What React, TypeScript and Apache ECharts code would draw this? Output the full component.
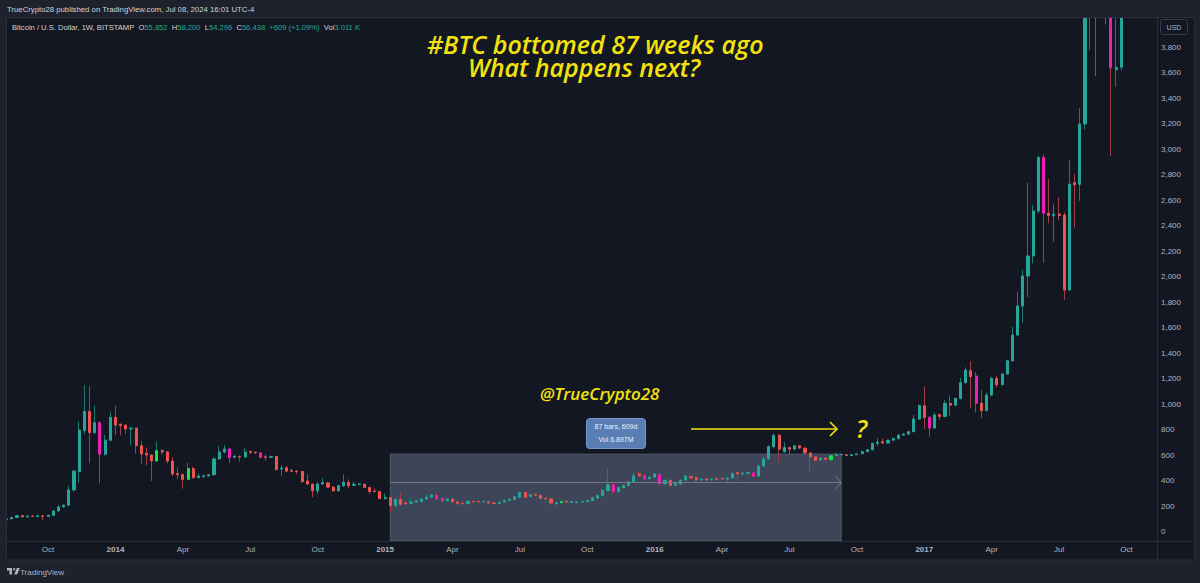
import React, { useEffect, useRef } from 'react';
import * as echarts from 'echarts';

// ---------- time axis ----------
const FIRST_WEEK_UTC = Date.UTC(2013, 7, 12); // Monday 12 Aug 2013
const WEEK_COUNT = 222; // weeks shown on the time axis (data + empty future)
const weeks: string[] = [];
for (let k = 0; k < WEEK_COUNT; k++) {
  weeks.push(new Date(FIRST_WEEK_UTC + k * 7 * 86400000).toISOString().slice(0, 10));
}
const monthNames = ['Jan', 'Feb', 'Mar', 'Apr', 'May', 'Jun', 'Jul', 'Aug', 'Sep', 'Oct', 'Nov', 'Dec'];
const priceTicks = [0, 200, 400, 600, 800, 1000, 1200, 1400, 1600, 1800, 2000, 2200, 2400, 2600, 2800, 3000, 3200, 3400, 3600, 3800];

// ---------- weekly candles [open, high, low, close] ----------
const ohlc2013 = [
  [95, 107, 93, 104], [104, 120, 98, 114], [114, 133, 110, 128], [128, 133, 115, 118],
  [118, 128, 116, 125], [125, 127, 120, 122], [122, 130, 120, 127], [127, 130, 90, 122],
  [122, 133, 120, 131], [131, 170, 130, 165], [165, 210, 160, 197], [197, 215, 190, 210],
  [210, 360, 205, 330], [330, 490, 316, 478], [475, 865, 385, 800], [795, 1153, 770, 945],
  [945, 1145, 540, 780], [780, 988, 770, 857], [857, 870, 382, 610], [610, 761, 600, 720],
  [720, 944, 712, 899],
];
const ohlc2014 = [
  [899, 990, 761, 839], [845, 850, 760, 835], [838, 845, 770, 808], [808, 820, 682, 815],
  [815, 820, 617, 677], [677, 716, 531, 612], [618, 664, 525, 604], [604, 610, 400, 557],
  [557, 708, 550, 638], [638, 651, 609, 628], [628, 635, 539, 557], [557, 586, 439, 455],
  [457, 507, 416, 449], [449, 460, 340, 413], [413, 544, 405, 497], [497, 512, 420, 426],
  [426, 460, 421, 439], [434, 455, 425, 440], [440, 455, 432, 449], [449, 586, 442, 573],
  [573, 674, 565, 627], [627, 682, 617, 651], [651, 660, 539, 583], [586, 609, 578, 593],
  [593, 600, 551, 588], [588, 656, 585, 627], [632, 640, 609, 625], [625, 630, 612, 620],
  [620, 625, 580, 585], [590, 609, 559, 586], [586, 598, 580, 592], [592, 595, 480, 490],
  [494, 525, 442, 502], [504, 518, 470, 477], [482, 497, 470, 476], [478, 482, 455, 474],
  [474, 480, 385, 395], [400, 455, 370, 376], [376, 380, 272, 322], [322, 395, 298, 376],
  [376, 421, 370, 388], [385, 395, 348, 352], [352, 362, 318, 322], [322, 370, 318, 363],
  [363, 452, 355, 390], [390, 413, 345, 365], [366, 395, 360, 375], [372, 385, 365, 376],
  [375, 378, 345, 350], [350, 355, 300, 318], [320, 343, 312, 317], [317, 322, 258, 262],
];
const ohlc2015 = [
  [262, 303, 255, 270], [270, 275, 152, 206], [206, 260, 200, 256], [256, 308, 210, 217],
  [228, 240, 212, 222], [225, 268, 218, 236], [236, 250, 230, 246], [240, 265, 232, 259],
  [259, 300, 255, 274], [274, 300, 268, 290], [288, 295, 255, 260], [262, 270, 237, 245],
  [245, 262, 240, 258], [258, 262, 232, 236], [236, 240, 216, 222], [225, 237, 218, 222],
  [222, 247, 220, 240], [240, 245, 232, 238], [240, 244, 233, 236], [236, 243, 232, 240],
  [238, 241, 224, 228], [228, 233, 220, 223], [224, 238, 222, 233], [236, 252, 233, 248],
  [247, 260, 242, 257], [255, 280, 250, 276], [272, 320, 266, 310], [310, 315, 265, 273],
  [278, 300, 272, 292], [296, 300, 282, 289], [288, 292, 258, 263], [265, 272, 255, 259],
  [259, 262, 210, 228], [222, 235, 199, 229], [230, 242, 225, 240], [242, 248, 232, 235],
  [232, 242, 227, 238], [231, 238, 225, 236], [235, 242, 230, 240], [238, 250, 235, 247],
  [247, 272, 245, 268], [265, 295, 260, 287], [285, 335, 280, 328], [325, 500, 320, 370],
  [370, 387, 296, 318], [318, 352, 310, 348], [348, 372, 340, 365], [365, 400, 360, 393],
  [390, 468, 385, 440], [456, 470, 432, 440], [441, 452, 410, 416], [418, 437, 412, 430],
];
const ohlc2016 = [
  [430, 460, 425, 455], [450, 455, 360, 378], [378, 415, 370, 405], [405, 410, 360, 365],
  [366, 390, 362, 380], [378, 410, 370, 407], [407, 445, 400, 440], [436, 440, 415, 425],
  [425, 430, 390, 410], [407, 420, 400, 415], [416, 420, 405, 408], [408, 420, 405, 416],
  [420, 423, 410, 414], [421, 425, 410, 415], [415, 428, 380, 423], [423, 465, 420, 458],
  [466, 470, 400, 456], [456, 468, 445, 462], [460, 470, 450, 466], [463, 466, 430, 438],
  [438, 525, 432, 518], [518, 590, 512, 573], [573, 680, 565, 669], [669, 774, 655, 758],
  [758, 770, 547, 650], [630, 703, 620, 662], [662, 668, 604, 650], [650, 680, 645, 676],
  [676, 680, 650, 658], [658, 662, 615, 620], [620, 625, 468, 588], [590, 595, 555, 562],
  [565, 583, 560, 578], [580, 585, 565, 570], [568, 602, 565, 598], [600, 620, 597, 607],
  [606, 612, 600, 610], [606, 608, 595, 600], [600, 610, 596, 606], [606, 616, 604, 612],
  [614, 640, 610, 630], [630, 650, 625, 645], [645, 700, 640, 695], [695, 735, 672, 706],
  [708, 735, 690, 698], [698, 725, 690, 720], [720, 745, 715, 732], [732, 765, 728, 760],
  [760, 775, 755, 768], [768, 792, 765, 787], [787, 918, 782, 886], [886, 1001, 880, 991],
];
const ohlc2017 = [
  [991, 1140, 808, 899], [899, 910, 748, 815], [815, 936, 810, 918], [920, 925, 878, 906],
  [906, 1035, 900, 1009], [1009, 1069, 912, 995], [995, 1055, 990, 1048], [1048, 1210, 1040, 1171],
  [1171, 1292, 1165, 1270], [1265, 1341, 970, 1220], [1223, 1252, 938, 1010], [1010, 1114, 891, 952],
  [952, 1093, 948, 1074], [1074, 1218, 1065, 1205], [1205, 1224, 1135, 1155], [1155, 1245, 1150, 1239],
  [1239, 1350, 1235, 1343], [1343, 1610, 1336, 1545], [1545, 1885, 1540, 1773], [1773, 2055, 1640, 2008],
  [2008, 2740, 1841, 2165], [2165, 2565, 2107, 2518], [2518, 2951, 2500, 2936], [2936, 2962, 2112, 2500],
  [2500, 2769, 2421, 2483], [2481, 2578, 2277, 2493], [2493, 2625, 2447, 2483], [2486, 2507, 1820, 1898],
  [1898, 2918, 1890, 2729], [2740, 2808, 2387, 2722], [2727, 3323, 2598, 3200], [3200, 4200, 3158, 4060],
  [4060, 4480, 3780, 4140], [4140, 4460, 3576, 4350], [4350, 4980, 4130, 4600], [4600, 4690, 3980, 4230],
  [4230, 4420, 2951, 3640], [3625, 4120, 3493, 3645], [3645, 4400, 3620, 4380],
];
// candles painted with a highlight colour in the reference
const magentaWeeks = ['2013-12-16', '2014-06-09', '2014-07-21', '2015-03-16', '2015-03-23', '2015-11-09',
  '2015-12-21', '2016-01-11', '2016-05-16', '2017-01-09', '2017-03-13', '2017-06-12', '2017-09-11'];
const brightWeeks = ['2014-03-03', '2014-04-14', '2015-08-31', '2016-08-29'];

// measured range annotation
const rangeStart = '2015-01-12';
const rangeEnd = '2016-09-12';
const rangeTop = 612;
const rangeMid = 387;

const Y_MIN = -70.6;
const Y_MAX = 4039.2;

const UP = '#26a69a';
const DOWN = '#ef5350';
const MAGENTA = '#ee1fb4';
const BRIGHT = '#12e846';
const UP_WICK = '#1f7b72';
const DOWN_WICK = '#a23d45';
const YELLOW = '#f4e20f';
const OUTER = '#1e222d';
const PANEL = '#131722';
const LINE = '#2a2e39';
const AXIS_TEXT = '#b2b5be';

echarts.graphic.registerShape(
  'tvlogo',
  echarts.graphic.extendPath('M14 22H7V11H0V4h14v18zM28 22h-8l7.5-18h8L28 22z', {}) as any
);

export default function App() {
  const ref = useRef<HTMLDivElement>(null);
  useEffect(() => {
    const chart = echarts.init(ref.current!, null, { renderer: 'svg' });
    const all = [...ohlc2013, ...ohlc2014, ...ohlc2015, ...ohlc2016, ...ohlc2017];
    // thin series: one line from low to high per week (the wick)
    const wickData = all.map((r) => {
      const c = r[3] >= r[0] ? UP_WICK : DOWN_WICK;
      return { value: [r[0], r[3], r[2], r[1]], itemStyle: { color: c, color0: c, borderColor: c, borderColor0: c } };
    });
    // wide series: body only
    const bodyData = all.map((r, i) => {
      const d = weeks[i];
      const item: any = { value: [r[0], r[3], Math.min(r[0], r[3]), Math.max(r[0], r[3])] };
      if (magentaWeeks.includes(d)) item.itemStyle = { color0: MAGENTA, borderColor0: MAGENTA, color: MAGENTA, borderColor: MAGENTA };
      if (brightWeeks.includes(d)) item.itemStyle = { color: BRIGHT, borderColor: BRIGHT, color0: BRIGHT, borderColor0: BRIGHT };
      return item;
    });
    const isQuarterStart = (i: number) => {
      const m = weeks[i].slice(5, 7);
      if (!['01', '04', '07', '10'].includes(m)) return false;
      return i > 0 && weeks[i - 1].slice(5, 7) !== m;
    };
    const uiFont = '"Liberation Sans", Arial, sans-serif';
    const option: any = {
      animation: false,
      backgroundColor: PANEL,
      grid: { left: 4, top: 17, width: 1151, height: 524 },
      xAxis: {
        type: 'category',
        data: weeks,
        boundaryGap: true,
        axisLine: { show: false },
        axisTick: { show: false },
        splitLine: { show: false },
        axisLabel: {
          interval: (i: number) => isQuarterStart(i),
          color: AXIS_TEXT,
          fontSize: 8,
          fontFamily: uiFont,
          margin: 4,
          formatter: (v: string) => {
            const m = +v.slice(5, 7);
            return m === 1 ? `{y|${v.slice(0, 4)}}` : monthNames[m - 1];
          },
          rich: { y: { color: AXIS_TEXT, fontSize: 8, fontWeight: 'bold', fontFamily: uiFont } },
        },
      },
      yAxis: {
        type: 'value',
        position: 'right',
        min: Y_MIN,
        max: Y_MAX,
        axisLine: { show: false },
        axisTick: { show: false },
        splitLine: { show: false },
        axisLabel: {
          customValues: priceTicks,
          color: AXIS_TEXT,
          fontSize: 8,
          fontFamily: uiFont,
          margin: 6,
          formatter: (v: number) => v.toLocaleString('en-US'),
        },
      },
      series: [
        {
          type: 'line',
          data: [],
          z: 1,
          silent: true,
          markArea: {
            silent: true,
            itemStyle: { color: 'rgba(120,135,165,0.42)', borderColor: 'rgba(150,160,185,0.3)', borderWidth: 1 },
            data: [[{ xAxis: rangeStart, yAxis: rangeTop }, { xAxis: rangeEnd, yAxis: Y_MIN }]],
          },
          markLine: {
            silent: true,
            symbol: ['none', 'none'],
            label: { show: false },
            lineStyle: { color: '#727988', width: 1, type: 'solid' },
            data: [[{ coord: [rangeStart, rangeMid] }, { coord: [rangeEnd, rangeMid] }]],
          },
        },
        {
          type: 'candlestick',
          z: 2,
          clip: true,
          barWidth: 1,
          silent: true,
          itemStyle: { color: UP_WICK, color0: DOWN_WICK, borderColor: UP_WICK, borderColor0: DOWN_WICK, borderWidth: 1 },
          data: wickData,
        },
        {
          type: 'candlestick',
          z: 3,
          clip: true,
          barWidth: 2.6,
          silent: true,
          itemStyle: { color: UP, color0: DOWN, borderColor: UP, borderColor0: DOWN, borderWidth: 1 },
          data: bodyData,
        },
      ],
    };
    chart.setOption(option);

    const endPt = chart.convertToPixel({ xAxisIndex: 0, yAxisIndex: 0 }, [rangeEnd, rangeMid]) as number[];
    const titleStyle = { fill: YELLOW, fontSize: 25, fontStyle: 'italic', fontWeight: 600, fontFamily: '"Open Sans"', lineHeight: 23 };
    const graphics: any[] = [
      // outer frame
      { type: 'rect', shape: { x: 0, y: 0, width: 1200, height: 17 }, style: { fill: OUTER }, z: 50 },
      { type: 'rect', shape: { x: 0, y: 560, width: 1200, height: 23 }, style: { fill: OUTER }, z: 50 },
      { type: 'rect', shape: { x: 0, y: 0, width: 6.5, height: 583 }, style: { fill: OUTER }, z: 50 },
      { type: 'rect', shape: { x: 1195, y: 0, width: 5, height: 583 }, style: { fill: OUTER }, z: 50 },
      { type: 'rect', shape: { x: 6.5, y: 17.5, width: 1188, height: 542.5 }, style: { fill: 'none', stroke: LINE, lineWidth: 1 }, z: 51 },
      { type: 'line', shape: { x1: 6.5, y1: 541.5, x2: 1195, y2: 541.5 }, style: { stroke: LINE, lineWidth: 1 }, z: 51 },
      { type: 'line', shape: { x1: 1157.5, y1: 17.5, x2: 1157.5, y2: 560 }, style: { stroke: LINE, lineWidth: 1 }, z: 51 },
      // header & legend
      {
        type: 'text', x: 7, y: 9, z: 52,
        style: { text: 'TrueCrypto28 published on TradingView.com, Jul 08, 2024 16:01 UTC-4', fill: '#d1d4dc', font: `7.75px ${uiFont}`, textVerticalAlign: 'middle' },
      },
      {
        type: 'text', x: 12, y: 27, z: 52,
        style: {
          text: '{n|Bitcoin / U.S. Dollar, 1W, BITSTAMP}  {n|O}{v|55,852}  {n|H}{v|58,200}  {n|L}{v|54,296}  {n|C}{v|56,438}  {v|+609 (+1.09%)}  {n|Vol}{v|3.011 K}',
          fill: '#d1d4dc', font: `7.6px ${uiFont}`, textVerticalAlign: 'middle',
          rich: { n: { fill: '#d1d4dc', fontSize: 7.6, fontFamily: uiFont }, v: { fill: '#22ab94', fontSize: 7.6, fontFamily: uiFont } },
        },
      },
      { type: 'rect', z: 52, shape: { x: 1160.5, y: 19.5, width: 27, height: 15, r: 2 }, style: { fill: PANEL, stroke: '#363a45', lineWidth: 1 } },
      { type: 'text', z: 53, x: 1174, y: 27, style: { text: 'USD', fill: AXIS_TEXT, font: `7px ${uiFont}`, textAlign: 'center', textVerticalAlign: 'middle' } },
      // title (two lines, second one indented)
      {
        type: 'text', z: 52, x: 427, y: 32,
        style: {
          text: '{a|#BTC bottomed 87 weeks ago}\n{b|What happens next?}',
          textAlign: 'left', textVerticalAlign: 'top',
          fill: YELLOW, font: 'italic 600 25px "Open Sans"', lineHeight: 23,
          rich: { a: { ...titleStyle }, b: { ...titleStyle, padding: [0, 0, 0, 41] } },
        },
      },
      { type: 'text', z: 52, x: 540, y: 393, style: { text: '@TrueCrypto28', fill: YELLOW, font: 'italic 600 17px "Open Sans"', textVerticalAlign: 'middle' } },
      // measure label
      { type: 'rect', z: 52, shape: { x: 586.5, y: 418.5, width: 59, height: 30, r: 3 }, style: { fill: '#5a7db4', stroke: '#7a97c8', lineWidth: 1 } },
      { type: 'text', z: 53, x: 616, y: 426.5, style: { text: '87 bars, 609d', fill: '#eef1f6', font: `7px ${uiFont}`, textAlign: 'center', textVerticalAlign: 'middle' } },
      { type: 'text', z: 53, x: 616, y: 439.5, style: { text: 'Vol 6.897M', fill: '#eef1f6', font: `7px ${uiFont}`, textAlign: 'center', textVerticalAlign: 'middle' } },
      // yellow arrow and question mark
      { type: 'line', z: 52, shape: { x1: 691, y1: 429, x2: 836.5, y2: 429 }, style: { stroke: YELLOW, lineWidth: 1.6 } },
      { type: 'polyline', z: 52, shape: { points: [[830, 422], [837, 429], [830, 436]] }, style: { stroke: YELLOW, lineWidth: 1.6, fill: 'none' } },
      { type: 'text', z: 52, x: 856, y: 428, style: { text: '?', fill: YELLOW, font: 'italic 600 25px "Open Sans"', textVerticalAlign: 'middle' } },
      // range arrow head
      {
        type: 'polyline', z: 52,
        shape: { points: [[endPt[0] - 6, endPt[1] - 6.5], [endPt[0], endPt[1]], [endPt[0] - 6, endPt[1] + 6.5]] },
        style: { stroke: '#727988', lineWidth: 1, fill: 'none' },
      },
      // footer
      { type: 'tvlogo', z: 52, x: 7, y: 566.5, scaleX: 0.36, scaleY: 0.36, style: { fill: '#b2b5be' } },
      { type: 'circle', z: 52, shape: { cx: 7 + 20 * 0.36, cy: 566.5 + 7.5 * 0.36, r: 3.3 * 0.36 }, style: { fill: '#b2b5be' } },
      { type: 'text', z: 52, x: 20, y: 572, style: { text: 'TradingView', fill: '#b2b5be', font: `8px ${uiFont}`, textVerticalAlign: 'middle' } },
    ];
    chart.setOption({ graphic: { elements: graphics } });
    return () => chart.dispose();
  }, []);
  return <div ref={ref} style={{ position: 'fixed', left: 0, top: 0, width: 1200, height: 583 }} />;
}
